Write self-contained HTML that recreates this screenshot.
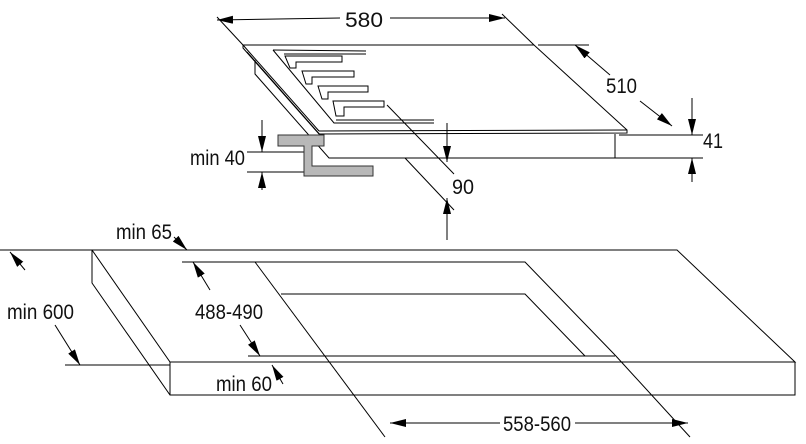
<!DOCTYPE html>
<html><head><meta charset="utf-8"><style>
html,body{margin:0;padding:0;background:#fff;}
svg{display:block;}
text{font-family:"Liberation Sans",sans-serif;font-size:21px;fill:#111;}
</style></head><body>
<svg width="806" height="444" viewBox="0 0 806 444" xmlns="http://www.w3.org/2000/svg">
<defs>
<marker id="a" viewBox="0 0 16 8" refX="16" refY="4" markerWidth="16" markerHeight="8" orient="auto" markerUnits="userSpaceOnUse"><path d="M0,0 L16,4 L0,8 Z" fill="#000"/></marker>
</defs>
<g fill="none" stroke="#000" stroke-width="1">
<polyline points="243,45 534,45 627,130 627,133 319,134 243,48 243,45"/>
<line x1="243" y1="45" x2="319" y2="131"/>
<line x1="319" y1="131" x2="627" y2="130"/>
<polyline points="255,60 255,74 329,158 615,158 615,134"/>
<line x1="247" y1="52" x2="322" y2="137"/>
<polyline points="273,50 366,51"/>
<polyline points="273,50 334,123 434,123"/>
<polyline points="284,54 366,54"/>
<polyline points="336,120 434,120"/>
<path d="M285,56 L342,56 L342,62 L296,62 L296,68 L290,68 Z"/>
<path d="M302,71 L354,71 L354,77 L312,77 L312,84 L306,84 Z"/>
<path d="M318,86 L368,86 L368,92 L328,92 L328,99 L322,99 Z"/>
<path d="M333,101 L384,101 L384,107 L344,107 L344,116 L336,116 Z"/>
<line x1="217" y1="17" x2="243" y2="45"/>
<line x1="502" y1="14" x2="534" y2="45"/>
<line x1="538" y1="45" x2="589" y2="45"/>
<line x1="619" y1="135" x2="703" y2="135"/>
<line x1="615" y1="158" x2="703" y2="158"/>
<line x1="340" y1="18" x2="217" y2="20" marker-end="url(#a)"/>
<line x1="390" y1="18" x2="505" y2="18" marker-end="url(#a)"/>
<line x1="610" y1="75" x2="575" y2="45" marker-end="url(#a)"/>
<line x1="640" y1="101" x2="672" y2="126" marker-end="url(#a)"/>
<line x1="692" y1="98" x2="692" y2="135" marker-end="url(#a)"/>
<line x1="692" y1="182" x2="692" y2="158" marker-end="url(#a)"/>
<line x1="247" y1="152" x2="305" y2="152"/>
<line x1="247" y1="172" x2="304" y2="172"/>
<line x1="262" y1="120" x2="262" y2="152" marker-end="url(#a)"/>
<line x1="262" y1="190" x2="262" y2="172" marker-end="url(#a)"/>
<line x1="387" y1="105" x2="454" y2="174"/>
<line x1="405" y1="158" x2="454" y2="210"/>
<line x1="447" y1="123" x2="447" y2="162" marker-end="url(#a)"/>
<line x1="447" y1="240" x2="447" y2="198" marker-end="url(#a)"/>
<polyline points="92,250 677,250 795,362 170,362 92,250"/>
<polyline points="92,250 92,283 170,395 795,395 795,362"/>
<line x1="170" y1="362" x2="170" y2="395"/>
<polyline points="255,262 525,262 615,355"/>
<polyline points="281,294 525,294 585,356"/>
<line x1="255" y1="262" x2="385" y2="437"/>
<line x1="248" y1="356" x2="615" y2="356"/>
<line x1="615" y1="355" x2="690" y2="437"/>
<line x1="0" y1="250" x2="92" y2="250"/>
<line x1="65" y1="365" x2="170" y2="365"/>
<line x1="182" y1="262" x2="255" y2="262"/>
<line x1="25" y1="270" x2="10" y2="252" marker-end="url(#a)"/>
<line x1="55" y1="325" x2="80" y2="365" marker-end="url(#a)"/>
<line x1="210" y1="290" x2="193" y2="262" marker-end="url(#a)"/>
<line x1="240" y1="325" x2="260" y2="356" marker-end="url(#a)"/>
<line x1="174" y1="237" x2="187" y2="250" marker-end="url(#a)"/>
<line x1="283" y1="384" x2="272" y2="365" marker-end="url(#a)"/>
<line x1="500" y1="423" x2="390" y2="423" marker-end="url(#a)"/>
<line x1="575" y1="423" x2="688" y2="423" marker-end="url(#a)"/>
</g>
<polygon points="278,135 324,135 324,146 312,146 312,166 373,166 373,176 304,176 304,146 278,146" fill="#b8b8b8" stroke="#333" stroke-width="1"/>
<g>
<text x="345" y="27" textLength="38" lengthAdjust="spacingAndGlyphs">580</text>
<text x="606" y="93" textLength="31" lengthAdjust="spacingAndGlyphs">510</text>
<text x="703" y="148" textLength="20" lengthAdjust="spacingAndGlyphs">41</text>
<text x="190" y="165" textLength="55" lengthAdjust="spacingAndGlyphs">min 40</text>
<text x="452" y="194" textLength="22" lengthAdjust="spacingAndGlyphs">90</text>
<text x="116" y="239" textLength="56" lengthAdjust="spacingAndGlyphs">min 65</text>
<text x="7" y="319" textLength="67" lengthAdjust="spacingAndGlyphs">min 600</text>
<text x="195" y="319" textLength="68" lengthAdjust="spacingAndGlyphs">488-490</text>
<text x="216" y="391" textLength="56" lengthAdjust="spacingAndGlyphs">min 60</text>
<text x="503" y="431" textLength="68" lengthAdjust="spacingAndGlyphs">558-560</text>
</g>
</svg>
</body></html>
